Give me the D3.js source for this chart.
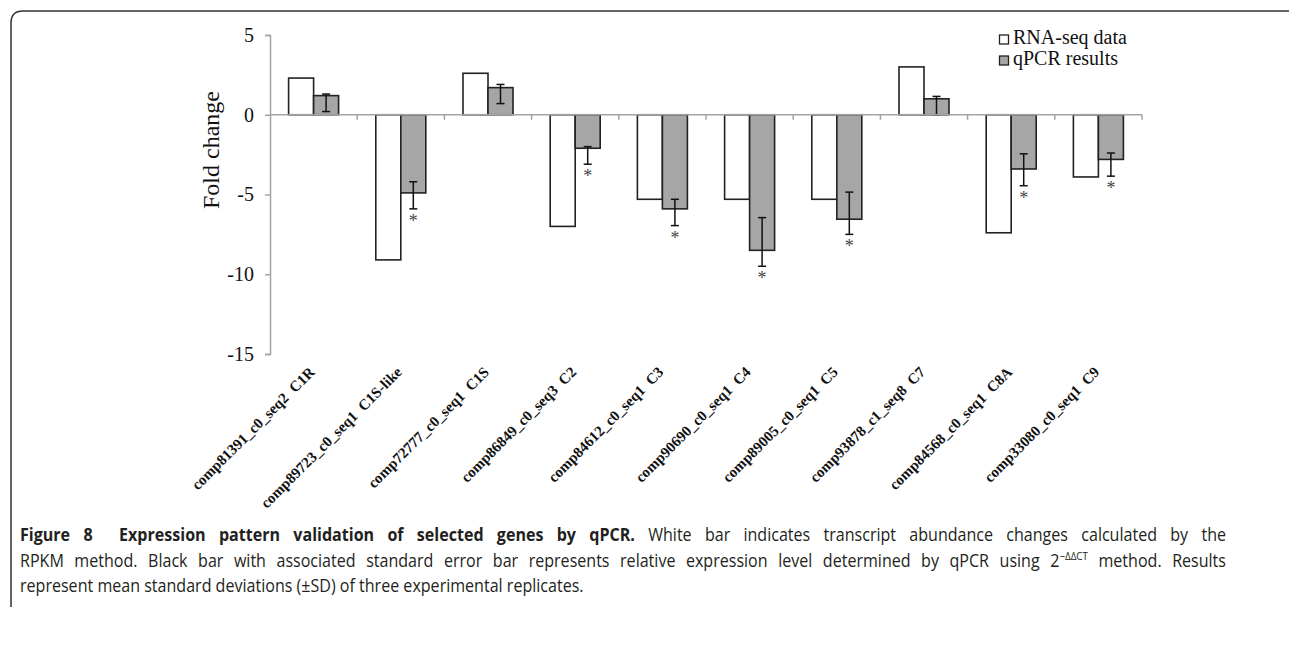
<!DOCTYPE html>
<html>
<head>
<meta charset="utf-8">
<script src="https://cdn.jsdelivr.net/npm/d3@7"></script>
<style>
  html, body { margin: 0; padding: 0; background: #fff; }
  svg { display: block; }
</style>
</head>
<body>
<div id="chart"></div>
<script>
// gene labels along the x axis
const genes = [
  "comp81391_c0_seq2  C1R",
  "comp89723_c0_seq1  C1S-like",
  "comp72777_c0_seq1  C1S",
  "comp86849_c0_seq3  C2",
  "comp84612_c0_seq1  C3",
  "comp90690_c0_seq1  C4",
  "comp89005_c0_seq1  C5",
  "comp93878_c1_seq8  C7",
  "comp84568_c0_seq1  C8A",
  "comp33080_c0_seq1  C9"
];
const rnaSeq = [2.3, -9.1, 2.6, -7.0, -5.3, -5.3, -5.3, 3.0, -7.4, -3.9];
const qpcr = [1.2, -4.9, 1.7, -2.1, -5.9, -8.5, -6.55, 1.0, -3.4, -2.8];
// whisker ends as drawn
const errTop = [1.3, -4.2, 1.9, -2.0, -5.3, -6.45, -4.85, 1.15, -2.45, -2.4];
const errBottom = [0.2, -5.9, 0.7, -3.1, -6.95, -9.5, -7.5, 0.0, -4.45, -3.85];
const starred = [false, true, false, true, true, true, true, false, true, true];
const yTicks = [5, 0, -5, -10, -15];
const seriesNames = ["RNA-seq data", "qPCR results"];

const W = 1290, H = 647;
const serif = "'Liberation Serif', 'Times New Roman', serif";
const axisGrey = "#a3a3a3";

const svg = d3.select("#chart").append("svg")
  .attr("width", W).attr("height", H);

svg.append("rect").attr("width", W).attr("height", H).attr("fill", "#fff");

// frame
svg.append("path")
  .attr("d", "M11,607 L11,23 Q11,11 23,11 L1289,11")
  .attr("fill", "none").attr("stroke", "#333").attr("stroke-width", 1.5);

const x = d3.scaleBand().domain(genes).range([270, 1142]);
const y = d3.scaleLinear().domain([-15, 5]).range([354, 35]);
const barW = 25;
const sub = d3.scaleBand().domain(["rna", "qpcr"])
  .range([x.bandwidth() / 2 - barW, x.bandwidth() / 2 + barW]);

const rows = genes.map((g, i) => ({
  gene: g, rna: rnaSeq[i], qpcr: qpcr[i],
  top: errTop[i], bottom: errBottom[i], star: starred[i]
}));

// y axis
const yAxis = svg.append("g")
  .attr("transform", "translate(270,0)")
  .call(d3.axisLeft(y).tickValues(yTicks).tickSize(5).tickPadding(11).tickFormat(d => String(d)));
yAxis.select(".domain").attr("stroke", axisGrey).attr("stroke-width", 1.5);
yAxis.selectAll(".tick line").attr("stroke", axisGrey).attr("stroke-width", 1.5);
yAxis.selectAll(".tick text")
  .attr("font-family", serif).attr("font-size", 20).attr("fill", "#111");

svg.append("text")
  .attr("transform", "translate(219,150) rotate(-90)")
  .attr("text-anchor", "middle")
  .attr("font-family", serif).attr("font-size", 24).attr("fill", "#111")
  .text("Fold change");

// bars
const groups = svg.selectAll("g.gene").data(rows).enter().append("g")
  .attr("class", "gene")
  .attr("transform", d => "translate(" + x(d.gene) + ",0)");

groups.append("rect")
  .attr("x", sub("rna")).attr("width", sub.bandwidth())
  .attr("y", d => y(Math.max(0, d.rna)))
  .attr("height", d => Math.abs(y(d.rna) - y(0)))
  .attr("fill", "#fff").attr("stroke", "#222").attr("stroke-width", 1.6);

groups.append("rect")
  .attr("x", sub("qpcr")).attr("width", sub.bandwidth())
  .attr("y", d => y(Math.max(0, d.qpcr)))
  .attr("height", d => Math.abs(y(d.qpcr) - y(0)))
  .attr("fill", "#a6a6a6").attr("stroke", "#222").attr("stroke-width", 1.6);

// x axis line + boundary ticks
svg.append("line")
  .attr("x1", x.range()[0]).attr("x2", x.range()[1])
  .attr("y1", y(0)).attr("y2", y(0))
  .attr("stroke", axisGrey).attr("stroke-width", 1.5);
svg.selectAll("line.btick").data(genes).enter().append("line")
  .attr("class", "btick")
  .attr("x1", d => x(d) + x.step()).attr("x2", d => x(d) + x.step())
  .attr("y1", y(0)).attr("y2", y(0) + 5)
  .attr("stroke", axisGrey).attr("stroke-width", 1.5);

// error bars
const ex = sub("qpcr") + sub.bandwidth() / 2;
groups.append("line")
  .attr("x1", ex).attr("x2", ex)
  .attr("y1", d => y(d.top)).attr("y2", d => y(d.bottom))
  .attr("stroke", "#111").attr("stroke-width", 1.5);
groups.selectAll("line.cap").data(d => [d.top, d.bottom]).enter().append("line")
  .attr("class", "cap")
  .attr("x1", ex - 4).attr("x2", ex + 4)
  .attr("y1", v => y(v)).attr("y2", v => y(v))
  .attr("stroke", "#111").attr("stroke-width", 1.5);

groups.filter(d => d.star).append("text")
  .attr("x", ex).attr("y", d => y(d.bottom) + 18)
  .attr("text-anchor", "middle")
  .attr("font-family", serif).attr("font-size", 18).attr("fill", "#444")
  .text("*");

// gene labels
svg.selectAll("text.gene-label").data(genes).enter().append("text")
  .attr("class", "gene-label")
  .attr("transform", d => "translate(" + (x(d) + x.bandwidth() / 2 + 2) + ",373) rotate(-45)")
  .attr("text-anchor", "end")
  .attr("font-family", serif).attr("font-weight", "bold")
  .attr("font-size", 15).attr("fill", "#111")
  .attr("xml:space", "preserve")
  .text(d => d);

// legend
const legend = svg.append("g").attr("transform", "translate(999,34)");
seriesNames.forEach((name, i) => {
  legend.append("rect")
    .attr("x", 0.5).attr("y", i * 21 + 1).attr("width", 9).attr("height", 9)
    .attr("fill", i === 0 ? "#fff" : "#a6a6a6")
    .attr("stroke", "#222").attr("stroke-width", 1.3);
  legend.append("text")
    .attr("x", 14).attr("y", i * 21 + 10)
    .attr("font-family", serif).attr("font-size", 20).attr("fill", "#111")
    .text(name);
});

// caption: condensed look via horizontal scale, first two lines justified
const capFont = "'Open Sans', 'Noto Sans', sans-serif";
const capColor = "#231f20";
const capLeft = 20, capRight = 1226, lastLineEnd = 584;

function capLine(parts, baseline) {
  const t = svg.append("text")
    .attr("x", 0).attr("y", 0)
    .attr("font-family", capFont).attr("font-size", 18)
    .attr("fill", capColor)
    .style("white-space", "pre");
  parts.forEach(p => {
    const s = t.append("tspan").text(p.text);
    if (p.bold) s.attr("font-weight", "bold");
    if (p.sup) s.attr("font-size", 11).attr("dy", -7);
    if (p.unsup) s.attr("dy", 7);
  });
  t.datum({ parts: parts, baseline: baseline });
  return t;
}

const line1 = capLine([
  { text: "Figure 8  Expression pattern validation of selected genes by qPCR.", bold: true },
  { text: " White bar indicates transcript abundance changes calculated by the" }
], 541);
const line2 = capLine([
  { text: "RPKM method. Black bar with associated standard error bar represents relative expression level determined by qPCR using 2" },
  { text: "\u2212\u0394\u0394CT", sup: true },
  { text: " method. Results", unsup: true }
], 567);
const line3 = capLine([
  { text: "represent mean standard deviations (\u00b1SD) of three experimental replicates." }
], 592);

const sx = (lastLineEnd - capLeft) / line3.node().getComputedTextLength();
[line1, line2, line3].forEach((t, i) => {
  const d = t.datum();
  t.attr("transform", "translate(" + capLeft + "," + d.baseline + ") scale(" + sx + ",1)");
  if (i < 2) {
    const natural = t.node().getComputedTextLength();
    const spaces = d.parts.map(p => p.text).join("").split(" ").length - 1;
    t.attr("word-spacing", ((capRight - capLeft) / sx - natural) / spaces);
  }
});
</script>
</body>
</html>
